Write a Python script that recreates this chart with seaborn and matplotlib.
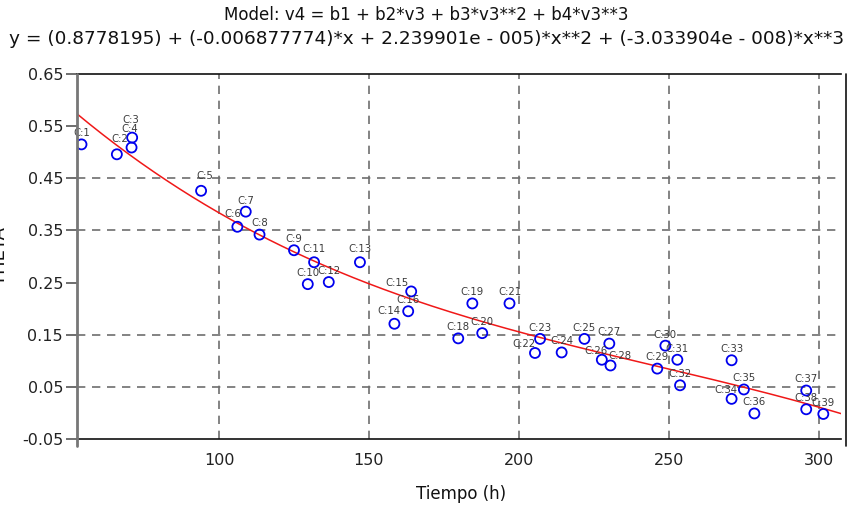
import numpy as np
import pandas as pd
import matplotlib
matplotlib.use("Agg")
import matplotlib.pyplot as plt
import seaborn as sns

# ---- data ----
labels = ["C:1", "C:2", "C:3", "C:4", "C:5", "C:6", "C:7", "C:8", "C:9", "C:10",
          "C:11", "C:12", "C:13", "C:14", "C:15", "C:16", "C:18", "C:19", "C:20", "C:21",
          "C:22", "C:23", "C:24", "C:25", "C:26", "C:27", "C:28", "C:29", "C:30", "C:31",
          "C:32", "C:33", "C:34", "C:35", "C:36", "C:37", "C:38", "C:39"]
tiempo = [54.1, 65.9, 71.0, 70.8, 94.0, 106.1, 108.9, 113.5, 125.0, 129.6,
          131.7, 136.6, 147.0, 158.5, 164.1, 163.1, 179.8, 184.5, 187.8, 196.9,
          205.4, 207.1, 214.3, 221.9, 227.7, 230.2, 230.6, 246.2, 248.9, 252.9,
          253.8, 271.0, 271.0, 275.1, 278.6, 295.9, 295.9, 301.6]
theta = [0.515, 0.496, 0.528, 0.509, 0.426, 0.357, 0.386, 0.342, 0.312, 0.247,
         0.289, 0.251, 0.289, 0.171, 0.233, 0.195, 0.143, 0.210, 0.153, 0.210,
         0.115, 0.142, 0.116, 0.142, 0.102, 0.133, 0.091, 0.085, 0.129, 0.102,
         0.053, 0.101, 0.027, 0.045, -0.001, 0.043, 0.007, -0.002]
coefs = [0.8778195, -0.006877774, 2.239901e-005, -3.033904e-008]

x_ticks = [100, 150, 200, 250, 300]
y_ticks = [0.65, 0.55, 0.45, 0.35, 0.25, 0.15, 0.05, -0.05]
y_grid = [0.45, 0.35, 0.15, 0.05]

title1 = "Model: v4 = b1 + b2*v3 + b3*v3**2 + b4*v3**3"
title2 = ("y = (0.8778195) + (-0.006877774)*x + 2.239901e - 005)*x**2 + "
          "(-3.033904e - 008)*x**3")

# label nudges (points) for labels that sit away from the default spot
nudge = {"C:2": (2, 3), "C:3": (-1, 5), "C:4": (-1, 5), "C:5": (3, 3), "C:6": (-3, 1),
         "C:11": (0, 1.5), "C:13": (0, 1.5), "C:14": (-4, 1), "C:15": (-10, -2),
         "C:22": (-8, -1.5), "C:26": (-4, -1.5), "C:28": (6.5, -1), "C:34": (-4, -1.5)}

sns.set_theme(style="white")
plt.rcParams['font.family'] = ['DejaVu Sans']

fig = plt.figure(figsize=(8.53, 5.07), dpi=100)
W, H = 853, 507
left_px, right_px, top_px, bot_px = 77, 841, 74, 439
ax = fig.add_axes([left_px / W, 1 - bot_px / H, (right_px - left_px) / W, (bot_px - top_px) / H])

xmin, xmax = 52.6, 307.5
ax.set_xlim(xmin, xmax)
ax.set_ylim(-0.05, 0.65)

# grid lines
for gy in y_grid:
    ax.axhline(gy, color="#6e6e6e", lw=1.2, ls=(0, (5, 4)), zorder=1)
for gx in x_ticks:
    ax.axvline(gx, color="#6e6e6e", lw=1.2, ls=(0, (5, 4)), zorder=1)

# fitted curve
xs = np.linspace(xmin, xmax, 300)
ys = coefs[0] + coefs[1] * xs + coefs[2] * xs ** 2 + coefs[3] * xs ** 3
sns.lineplot(x=xs, y=ys, ax=ax, color="#f01818", lw=1.1, zorder=3)

df = pd.DataFrame({"Tiempo": tiempo, "THETA": theta, "label": labels})
sns.scatterplot(data=df, x="Tiempo", y="THETA", ax=ax, marker="o", s=52,
                facecolor="none", edgecolor="#0000ee", linewidth=1.3, zorder=4)

for lab, xv, yv in zip(labels, tiempo, theta):
    dx, dy = nudge.get(lab, (0, 0))
    ax.annotate(lab, (xv, yv), xytext=(0 + dx, 8 + dy), textcoords="offset points",
                ha="center", va="center", fontsize=7.3, color="#3a3a3a", zorder=5)

# axes frame
for s in ["left", "right"]:
    ax.spines[s].set_visible(False)
for s in ["top", "bottom"]:
    ax.spines[s].set_color("#111111")
    ax.spines[s].set_linewidth(1.2)
ax.plot([0, 0], [-0.02, 1], transform=ax.transAxes, color="#777777", lw=2, clip_on=False, zorder=6)
ax.plot([1.006, 1.006], [-0.02, 1.0], transform=ax.transAxes, color="#111111", lw=1.2, clip_on=False, zorder=6)

ax.set_xticks(x_ticks)
ax.set_xticklabels([str(v) for v in x_ticks])
ax.set_yticks(y_ticks)
ax.set_yticklabels(["%.2f" % v for v in y_ticks])
ax.tick_params(axis="y", which="both", left=True, length=8, width=1.2, color="#555555",
               labelsize=11.5, labelcolor="#222222", pad=2)
ax.tick_params(axis="x", which="both", bottom=False, length=0, labelsize=11.5,
               labelcolor="#222222", pad=10)
ax.set_xlabel("")
ax.set_ylabel("")

# titles and axis labels
fig.text(0.5, 1 - 15 / H, title1, ha="center", va="center", fontsize=12, color="#111111")
fig.text(0.5, 1 - 39 / H, title2, ha="center", va="center", fontsize=13.3, color="#111111")
fig.text(461 / W, 1 - 494 / H, "Tiempo (h)", ha="center", va="center", fontsize=12,
         color="#111111")
fig.text(0.0, 1 - 256 / H, "THETA", ha="center", va="center", rotation=90, fontsize=13,
         color="#111111")

fig.savefig("out.png", dpi=100)
